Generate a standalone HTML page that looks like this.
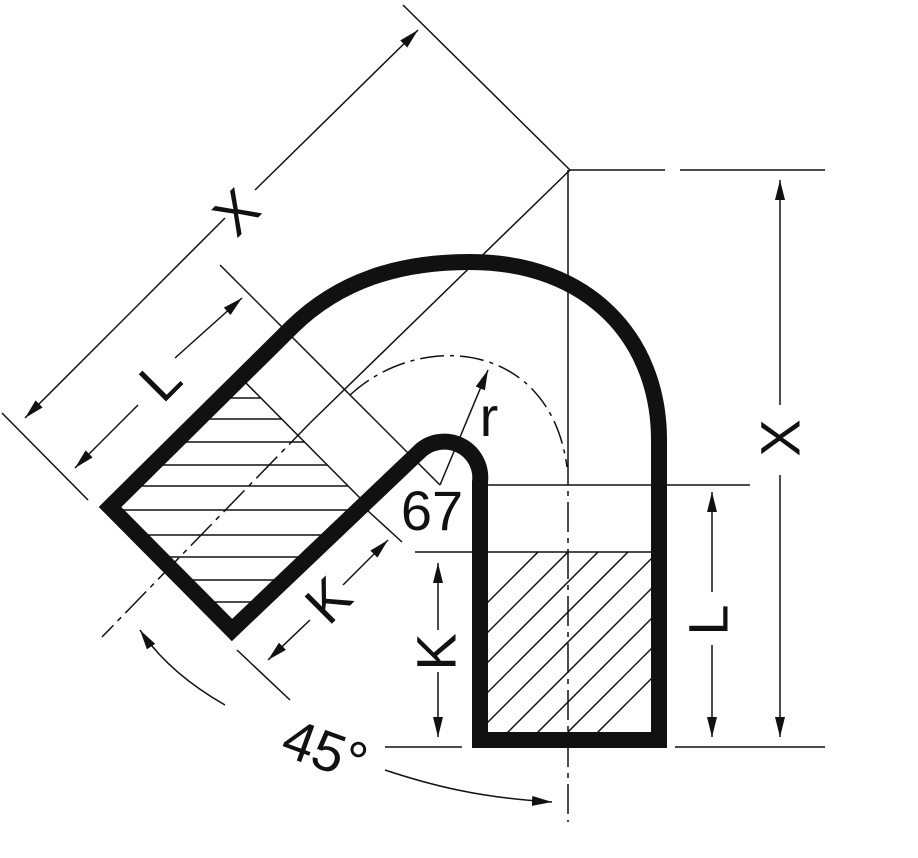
<!DOCTYPE html>
<html><head><meta charset="utf-8"><style>
html,body{margin:0;padding:0;background:#fff}
svg{display:block}
text{font-family:"Liberation Sans",sans-serif;fill:#111}
</style></head><body>
<svg width="918" height="858" viewBox="0 0 918 858" xmlns="http://www.w3.org/2000/svg">
<defs>
<marker id="b" viewBox="0 0 20 10" refX="20" refY="5" markerWidth="20" markerHeight="10" orient="auto-start-reverse" markerUnits="userSpaceOnUse">
<path d="M0,0 L20,5 L0,10 Z" fill="#111"/></marker>
<clipPath id="c1"><polygon points="110,507 240,377 362,500 232,630"/></clipPath>
<clipPath id="c2"><rect x="488" y="552" width="163" height="180"/></clipPath>
</defs>
<g stroke="#111" stroke-width="1.5" fill="none">
<g clip-path="url(#c1)">
<line x1="0" y1="398" x2="500" y2="398"/><line x1="0" y1="419" x2="500" y2="419"/>
<line x1="0" y1="442" x2="500" y2="442"/><line x1="0" y1="465" x2="500" y2="465"/>
<line x1="0" y1="486" x2="500" y2="486"/><line x1="0" y1="510" x2="500" y2="510"/>
<line x1="0" y1="535" x2="500" y2="535"/><line x1="0" y1="557" x2="500" y2="557"/>
<line x1="0" y1="580" x2="500" y2="580"/><line x1="0" y1="602" x2="500" y2="602"/>
</g>
<g clip-path="url(#c2)">
<line x1="460" y1="630" x2="560" y2="530"/><line x1="460" y1="660" x2="590" y2="530"/>
<line x1="460" y1="690" x2="620" y2="530"/><line x1="460" y1="720" x2="650" y2="530"/>
<line x1="460" y1="750" x2="680" y2="530"/><line x1="490" y1="750" x2="710" y2="530"/>
<line x1="520" y1="750" x2="740" y2="530"/><line x1="550" y1="750" x2="770" y2="530"/>
<line x1="580" y1="750" x2="800" y2="530"/>
</g>
<line x1="240" y1="377" x2="362" y2="500"/>
<line x1="2" y1="413" x2="88" y2="500"/>
<line x1="403" y1="5" x2="570" y2="170"/>
<line x1="570" y1="170" x2="310" y2="423"/>
<line x1="310" y1="423" x2="102" y2="637" stroke-dasharray="30,6,5,6"/>
<line x1="570" y1="170" x2="665" y2="170"/><line x1="680" y1="170" x2="825" y2="170"/>
<line x1="568" y1="170" x2="568" y2="455"/>
<line x1="568" y1="455" x2="568" y2="822" stroke-dasharray="30,6,5,6"/>
<line x1="488" y1="485" x2="651" y2="485"/><line x1="667" y1="485" x2="750" y2="485"/>
<line x1="415" y1="552" x2="651" y2="552"/>
<line x1="385" y1="747" x2="462" y2="747"/><line x1="675" y1="747" x2="825" y2="747"/>
<line x1="220" y1="265" x2="440" y2="485"/>
<line x1="367" y1="510" x2="402" y2="542"/>
<line x1="237" y1="650" x2="290" y2="700"/>
<path d="M350,395 C420,330 550,340 567,467" stroke-dasharray="24,6,4,6"/>
<line x1="225" y1="218" x2="25" y2="418" marker-end="url(#b)"/>
<line x1="255" y1="190" x2="418" y2="30" marker-end="url(#b)"/>
<line x1="138" y1="405" x2="75" y2="468" marker-end="url(#b)"/>
<line x1="175" y1="358" x2="242" y2="298" marker-end="url(#b)"/>
<line x1="310" y1="620" x2="268" y2="660" marker-end="url(#b)"/>
<line x1="343" y1="585" x2="388" y2="540" marker-end="url(#b)"/>
<line x1="780" y1="405" x2="780" y2="180" marker-end="url(#b)"/>
<line x1="780" y1="475" x2="780" y2="737" marker-end="url(#b)"/>
<line x1="712" y1="592" x2="712" y2="492" marker-end="url(#b)"/>
<line x1="712" y1="645" x2="712" y2="737" marker-end="url(#b)"/>
<line x1="438" y1="630" x2="438" y2="563" marker-end="url(#b)"/>
<line x1="438" y1="672" x2="438" y2="737" marker-end="url(#b)"/>
<line x1="440" y1="485" x2="488" y2="370" marker-end="url(#b)"/>
<path d="M225,705 C190,685 160,660 140,630" marker-end="url(#b)"/>
<path d="M385,770 C430,785 480,798 552,802" marker-end="url(#b)"/>
</g>
<g stroke="#111" stroke-width="16" fill="none" stroke-linejoin="miter">
<path d="M480,740 L480,482 A36,36 0 0 0 418,453 L232,630 L110,507 L292,327 C340,280 400,262 470,262 C590,262 659,340 659,440 L659,740 Z"/>
</g>
<g font-size="56">
<text x="0" y="0" transform="translate(236,212) rotate(-45)" text-anchor="middle" dominant-baseline="central">X</text>
<text x="0" y="0" transform="translate(160,380) rotate(-45)" text-anchor="middle" dominant-baseline="central">L</text>
<text x="0" y="0" transform="translate(328,600) rotate(-45)" text-anchor="middle" dominant-baseline="central">K</text>
<text x="0" y="0" transform="translate(780,438) rotate(-90)" text-anchor="middle" dominant-baseline="central">X</text>
<text x="0" y="0" transform="translate(708,620) rotate(-90)" text-anchor="middle" dominant-baseline="central">L</text>
<text x="0" y="0" transform="translate(436,652) rotate(-90)" text-anchor="middle" dominant-baseline="central">K</text>
<text x="0" y="0" transform="translate(325,750) rotate(20)" text-anchor="middle" dominant-baseline="central">45°</text>
<text x="432" y="530" text-anchor="middle">67</text>
<text x="489" y="436" text-anchor="middle">r</text>
</g>
</svg>
</body></html>
